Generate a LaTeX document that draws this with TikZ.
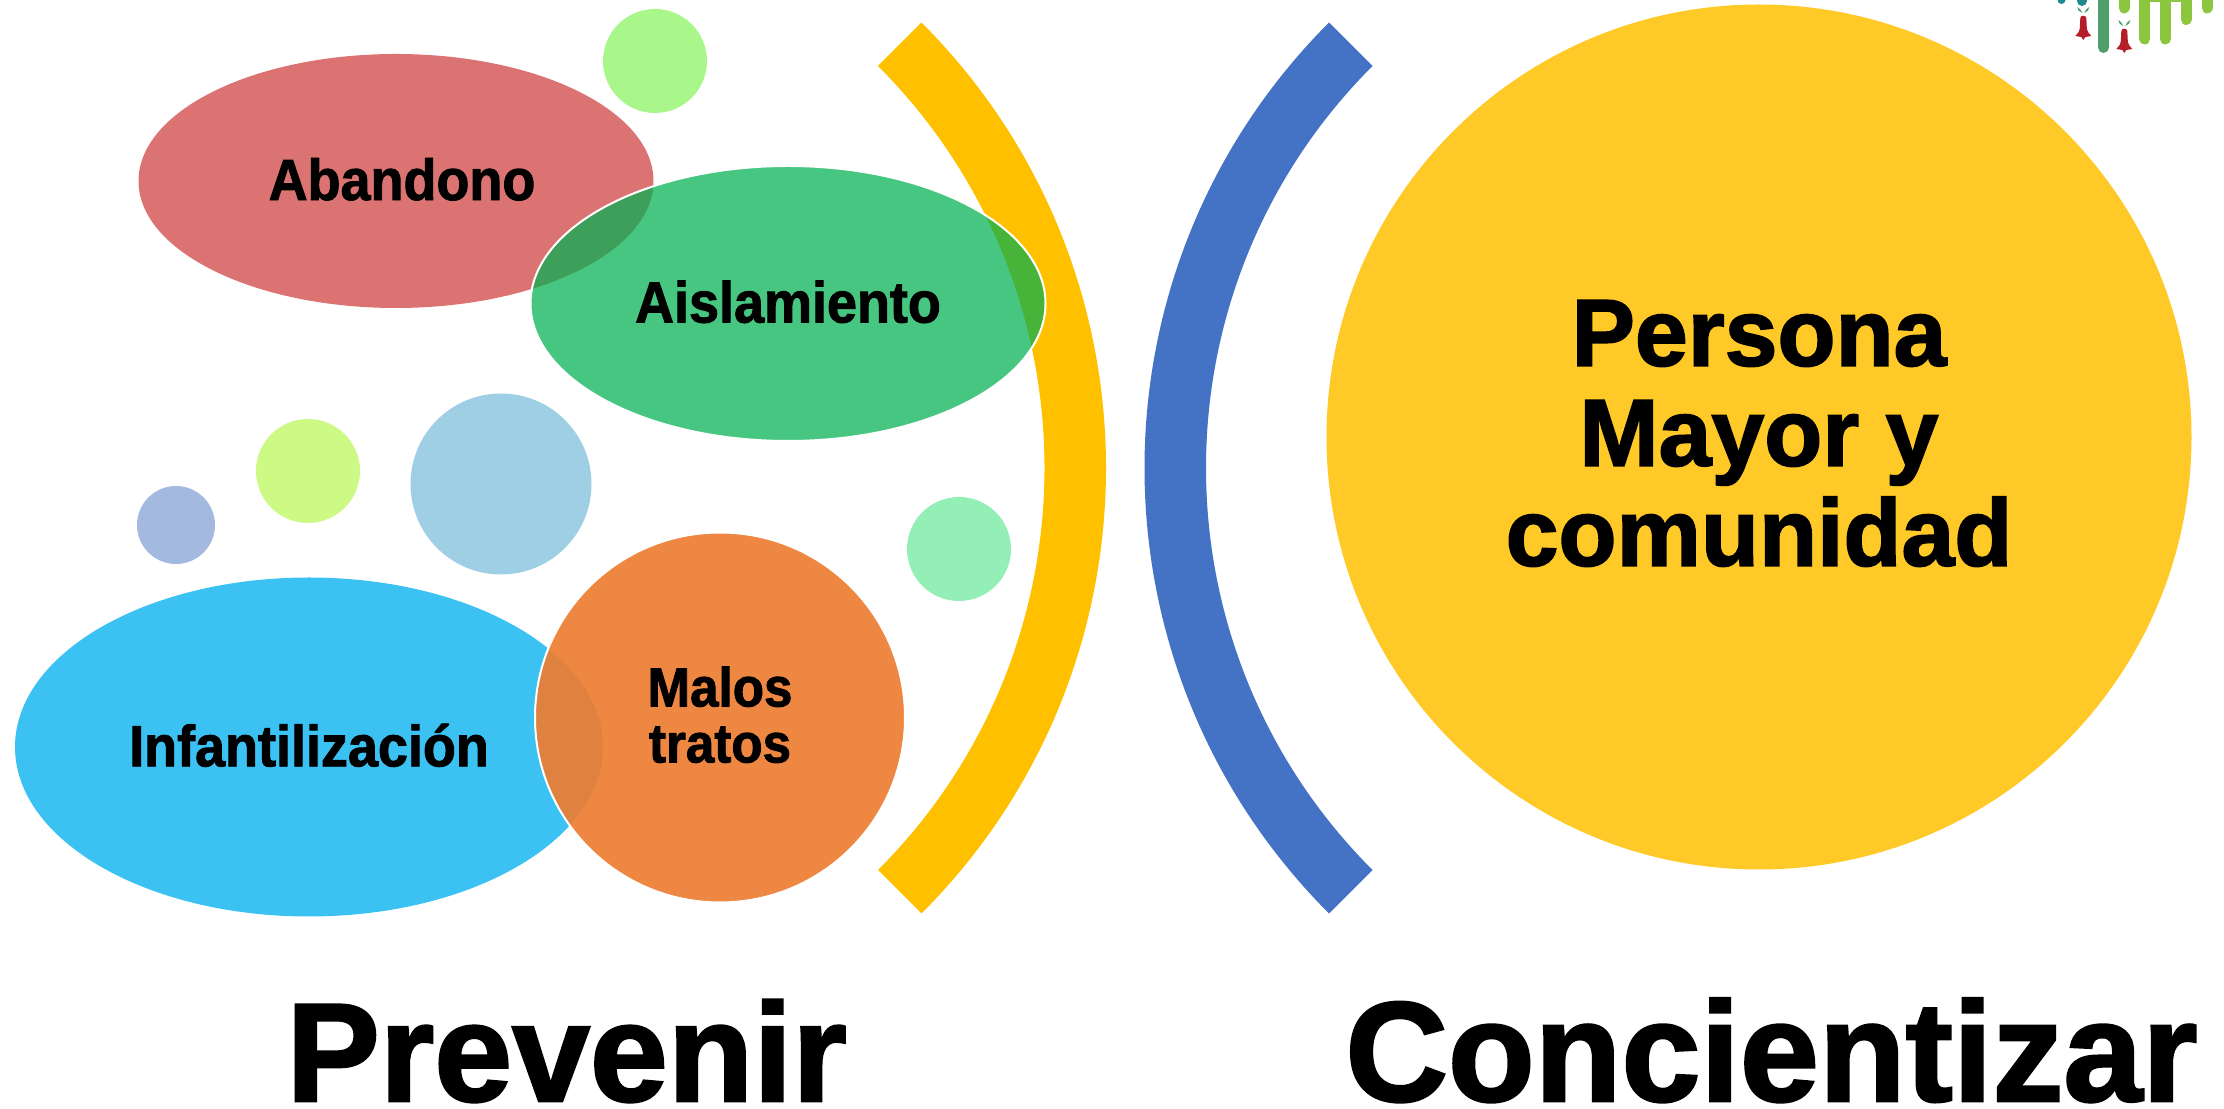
\documentclass[tikz,border=0pt]{standalone}
\usepackage{fontspec}
\usetikzlibrary{shapes.geometric,calc}
\newfontfamily\labelfont[FakeBold=1.6,FakeStretch=0.93]{Liberation Sans Bold}
\newfontfamily\titlefont[FakeBold=1.8]{Liberation Sans Bold}
\definecolor{arcyellow}{HTML}{FFC000}
\definecolor{arcblue}{HTML}{4472C4}
\definecolor{limebar}{HTML}{8CC63F}
\definecolor{darkbar}{HTML}{4E9F6B}
\definecolor{bellred}{HTML}{B41E28}
\definecolor{tealdot}{HTML}{1F8A8C}
\definecolor{bubtopc}{HTML}{A9F78A}
\definecolor{bublimec}{HTML}{CDF985}
\definecolor{bubpalec}{HTML}{A3B9E0}
\definecolor{bubskyc}{HTML}{9FCFE5}
\definecolor{bubmintc}{HTML}{93EFB6}
\definecolor{abandc}{HTML}{C00000}
\definecolor{aislac}{HTML}{00B050}
\definecolor{infantc}{HTML}{00B0F0}
\definecolor{malosc}{HTML}{ED7D31}
\definecolor{personac}{HTML}{FFC928}
\begin{document}
\begin{tikzpicture}[x=.5pt,y=.5pt,
blob/.style={ellipse,inner sep=0pt,text=black,text opacity=1,align=center,font=\labelfont\fontsize{29}{30}\selectfont},
bubble/.style={circle,inner sep=0pt,minimum size=#1*.5pt},
logobar/.style={line width=5.5pt,line cap=round},
bellmark/.pic={
    \fill[bellred] (-3,-3) .. controls (-3,0) and (3,0) .. (3,-3) -- (3.5,-13) .. controls (4,-17) and (6,-19) .. (8,-21) -- (2,-22) -- (0,-25) -- (-2,-22) -- (-8,-21) .. controls (-6,-19) and (-4,-17) .. (-3.5,-13) -- cycle;
    \fill[darkbar] (-1,2) .. controls (-2,5) and (-4,7) .. (-6,8) .. controls (-6,5) and (-4,3) .. cycle;
    \fill[darkbar] (1,2) .. controls (2,5) and (4,7) .. (6,8) .. controls (6,5) and (4,3) .. cycle;
}]
\useasboundingbox (0,0) rectangle (2224,1109);
% brackets
\coordinate (yellowc) at (476,641);
\coordinate (bluec) at (1774.5,641);
\fill[arcyellow] (yellowc) ++(-45:315pt) arc[start angle=-45,end angle=45,radius=315pt]
    -- ($(yellowc)+(45:284.25pt)$) arc[start angle=45,end angle=-45,radius=284.25pt] -- cycle;
\fill[arcblue] (bluec) ++(135:315pt) arc[start angle=135,end angle=225,radius=315pt]
    -- ($(bluec)+(225:284.25pt)$) arc[start angle=225,end angle=135,radius=284.25pt] -- cycle;
% small bubbles
\node (bubtop) [bubble=104,fill=bubtopc] at (655,1048) {};
\node (bublime) [bubble=104,fill=bublimec] at (308,638) {};
\node (bubpale) [bubble=78,fill=bubpalec] at (176,584) {};
\node (bubsky) [bubble=181,fill=bubskyc] at (501,625) {};
\node (bubmint) [bubble=104,fill=bubmintc] at (959,560) {};
% main shapes
\node (aband) [blob,fill=abandc,fill opacity=.55,minimum width=257.5pt,minimum height=127pt] at (396,928) {\hspace*{6pt}Abandono\rule[-2pt]{0pt}{1pt}};
\node (aisla) [blob,draw=white,line width=1pt,fill=aislac,fill opacity=.72,draw opacity=1,minimum width=257.5pt,minimum height=137.5pt] at (788,805.5) {Aislamiento\rule[-2pt]{0pt}{1pt}};
\node (infant) [blob,fill=infantc,fill opacity=.77,minimum width=294pt,minimum height=169.5pt] at (309,362) {Infantilización\rule[-2pt]{0pt}{1pt}};
\node (malos) [blob,draw=white,line width=1pt,fill=malosc,fill opacity=.92,draw opacity=1,minimum size=185pt,font=\labelfont\fontsize{27.5}{28}\selectfont] at (720,391.5) {Malos\\tratos\rule[-3pt]{0pt}{1pt}};
\node (persona) [circle,inner sep=0pt,minimum size=432.5pt,fill=personac,align=center,font=\titlefont\fontsize{47.5}{50}\selectfont] at (1759,672) {Persona\\Mayor y\\comunidad\rule[-4pt]{0pt}{1pt}};
% titles
\node (prevenir) [anchor=base,inner sep=0pt,font=\titlefont\fontsize{70}{70}\selectfont] at (566.6,8) {Prevenir};
\node (concien) [anchor=base,inner sep=0pt,font=\titlefont\fontsize{71}{70}\selectfont] at (1771.5,8) {Concientizar};
% logo corner
\fill[tealdot] (2061.5,1109) circle (2pt);
\fill[tealdot] (2082,1108) circle (2.5pt);
\draw[logobar,darkbar] (2103.5,1125) -- (2103.5,1061.5);
\draw[logobar,limebar] (2124,1125) -- (2124,1101);
\draw[logobar,limebar] (2144.7,1125) -- (2144.7,1070);
\draw[logobar,limebar] (2165.3,1125) -- (2165.3,1070);
\draw[logobar,limebar] (2186.3,1125) -- (2186.3,1089.5);
\draw[logobar,limebar] (2207,1125) -- (2207,1101);
\fill[limebar] (2144.7,1106.5) rectangle (2186.3,1115);
\pic at (2083.3,1094) {bellmark};
\pic at (2124.3,1081) {bellmark};
\end{tikzpicture}
\end{document}
